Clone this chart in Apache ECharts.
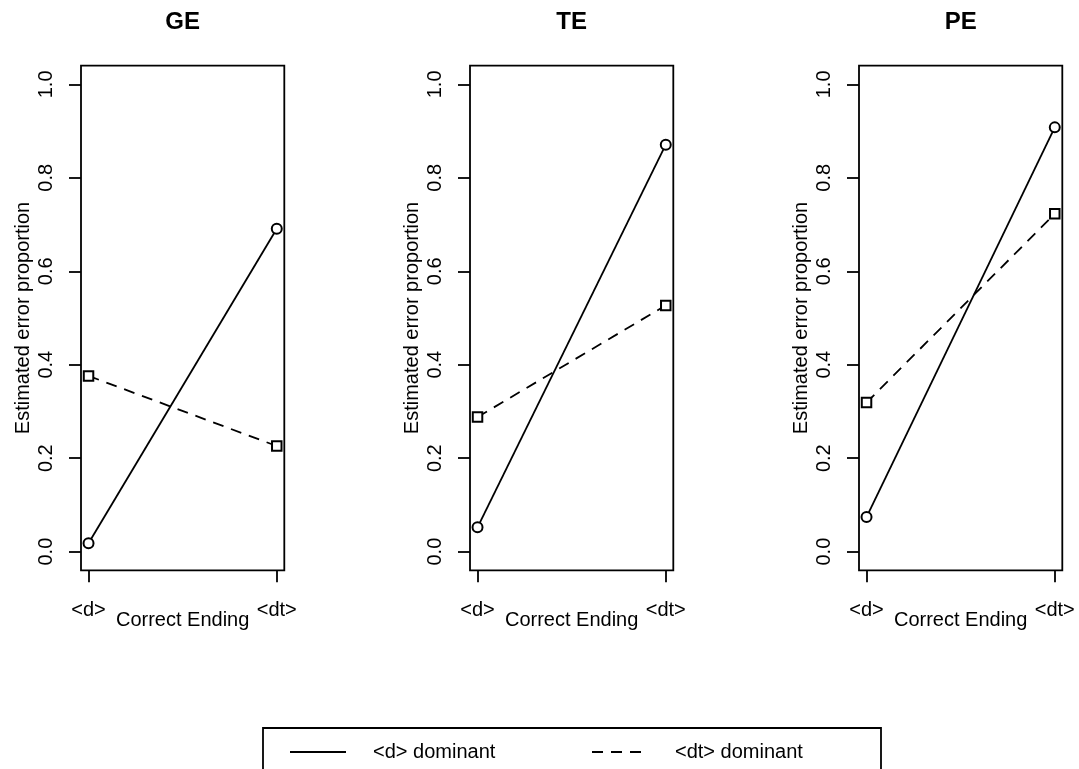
<!DOCTYPE html>
<html>
<head>
<meta charset="utf-8">
<script src="https://cdn.jsdelivr.net/npm/echarts@6/dist/echarts.min.js"></script>
<style>
  html, body { margin: 0; padding: 0; background: #fff; }
  #chart { width: 1079px; height: 769px; }
</style>
</head>
<body>
<div id="chart"></div>
<script>
// data
const panels = ['GE', 'TE', 'PE'];
const endings = ['<d>', '<dt>'];
const dDominant = [[0.018, 0.691], [0.052, 0.871], [0.074, 0.908]];
const dtDominant = [[0.376, 0.226], [0.288, 0.527], [0.319, 0.723]];
const yTicks = [0, 0.2, 0.4, 0.6, 0.8, 1.0];
const seriesNames = ['<d> dominant', '<dt> dominant'];

const font = 'Liberation Sans, Arial, sans-serif';
const boxLeft = 81, boxTop = 65.7, boxW = 203.3, boxH = 504.6, step = 389;
const lw = 1.8;

let chart = echarts.init(document.getElementById('chart'));

let grids = [], xAxes = [], yAxes = [], titles = [], series = [];
panels.forEach((p, i) => {
	let left = boxLeft + step * i;
	grids.push({
		left: left, top: boxTop, width: boxW, height: boxH,
		show: true, borderColor: '#000', borderWidth: lw,
		backgroundColor: 'transparent',
		outerBoundsMode: 'none'
	});
	titles.push({
		text: p, left: left + boxW / 2, top: 10, textAlign: 'center', padding: 0,
		textStyle: { fontFamily: font, fontSize: 24, fontWeight: 'bold', color: '#000' }
	});
	xAxes.push({
		type: 'value', gridIndex: i, min: 0.96, max: 2.04,
		name: 'Correct Ending', nameLocation: 'middle', nameGap: 40, nameMoveOverlap: false,
		nameTextStyle: { fontFamily: font, fontSize: 20, color: '#000' },
		axisLine: { show: false, onZero: false },
		splitLine: { show: false },
		axisTick: { show: true, length: 12, customValues: [1, 2], lineStyle: { color: '#000', width: lw } },
		axisLabel: {
			customValues: [1, 2], margin: 30, fontFamily: font, fontSize: 20, color: '#000',
			formatter: v => endings[Math.round(v) - 1]
		}
	});
	yAxes.push({
		type: 'value', gridIndex: i, min: -0.04, max: 1.04,
		name: 'Estimated error proportion', nameLocation: 'middle', nameGap: 48, nameMoveOverlap: false,
		nameTextStyle: { fontFamily: font, fontSize: 20, color: '#000' },
		axisLine: { show: false, onZero: false },
		splitLine: { show: false },
		axisTick: { show: true, length: 12, customValues: yTicks, lineStyle: { color: '#000', width: lw } },
		axisLabel: {
			customValues: yTicks, margin: 25, rotate: 90, fontFamily: font, fontSize: 20, color: '#000',
			formatter: v => v.toFixed(1)
		}
	});
	series.push({
		name: seriesNames[0], type: 'line', xAxisIndex: i, yAxisIndex: i,
		data: dDominant[i].map((v, k) => [k + 1, v]),
		symbol: 'emptyCircle', symbolSize: 10,
		lineStyle: { color: '#000', width: lw, type: 'solid' },
		itemStyle: { color: '#000', borderWidth: lw },
		animation: false, z: 3
	});
	series.push({
		name: seriesNames[1], type: 'line', xAxisIndex: i, yAxisIndex: i,
		data: dtDominant[i].map((v, k) => [k + 1, v]),
		symbol: 'emptyRect', symbolSize: 9.5,
		lineStyle: { color: '#000', width: lw, type: [11, 8] },
		itemStyle: { color: '#000', borderWidth: lw },
		animation: false, z: 2
	});
});

let option = {
	backgroundColor: '#fff',
	animation: false,
	title: titles,
	grid: grids,
	xAxis: xAxes,
	yAxis: yAxes,
	legend: {
		left: 263, top: 728,
		orient: 'horizontal',
		padding: [14, 66, 14, 26],
		borderColor: '#000', borderWidth: lw,
		itemGap: 0, itemWidth: 56, itemHeight: 20,
		selectedMode: false,
		itemStyle: { opacity: 0 },
		textStyle: { fontFamily: font, fontSize: 20, color: '#000', lineHeight: 20, padding: [0, 0, 0, 22] },
		data: [
			{ name: seriesNames[0], textStyle: { width: 218 } },
			{ name: seriesNames[1], textStyle: { width: 140 } }
		]
	},
	series: series
};
chart.setOption(option);
</script>
</body>
</html>
